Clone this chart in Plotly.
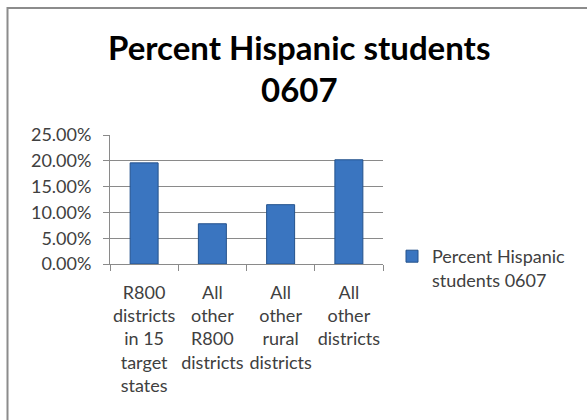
import plotly.graph_objects as go

categories = [
    "R800<br>districts<br>in 15<br>target<br>states",
    "All<br>other<br>R800<br>districts",
    "All<br>other<br>rural<br>districts",
    "All<br>other<br>districts",
]
series_name = "Percent Hispanic<br>students 0607"
pct_hispanic = [0.196, 0.078, 0.115, 0.202]
y_ticks = [0, 0.05, 0.10, 0.15, 0.20, 0.25]
y_tick_labels = ["0.00%", "5.00%", "10.00%", "15.00%", "20.00%", "25.00%"]
title_lines = ["Percent Hispanic students", "0607"]

FONT = "Lato, Open Sans, sans-serif"
TEXT = "#404040"
GRID = "#8a8a8a"

fig = go.Figure()
fig.add_trace(go.Bar(
    x=categories,
    y=pct_hispanic,
    name=series_name,
    width=0.41,
    marker=dict(color="#3a75c0", line=dict(color="#24528c", width=1)),
    showlegend=True,
))

W, H = 587, 420
ml, mr, mt, mb = 110, 204, 135, 156
pw = W - ml - mr
ph = H - mt - mb

fig.update_layout(
    width=W, height=H,
    margin=dict(l=ml, r=mr, t=mt, b=mb, autoexpand=False),
    paper_bgcolor="white",
    plot_bgcolor="white",
    font=dict(family=FONT, size=18, color=TEXT),
    showlegend=True,
    legend=dict(
        x=(392 - ml) / pw, y=(H - mb - 268) / ph,
        xanchor="left", yanchor="middle",
        valign="top",
        font=dict(family=FONT, size=18, color=TEXT),
        itemwidth=30,
        bgcolor="rgba(0,0,0,0)",
    ),
)

fig.update_xaxes(
    showline=True, linecolor=GRID, linewidth=1,
    ticks="outside", ticklen=6, tickcolor=GRID,
    tickson="boundaries",
    tickangle=0,
    tickfont=dict(family=FONT, size=18, color=TEXT),
    showgrid=False,
    ticklabelstandoff=12,
)
fig.update_yaxes(
    range=[0, 0.25],
    tickvals=y_ticks, ticktext=y_tick_labels,
    showline=True, linecolor=GRID, linewidth=1,
    ticks="outside", ticklen=6, tickcolor=GRID,
    showgrid=True, gridcolor=GRID, gridwidth=1,
    tickfont=dict(family=FONT, size=18, color=TEXT),
    zeroline=False,
    ticklabelstandoff=8,
)

# two-line chart title, centred over the chart area
for line, ypx in zip(title_lines, [47, 89]):
    fig.add_annotation(
        text=f"<b>{line}</b>",
        xref="paper", yref="paper",
        x=(299 - ml) / pw, y=(H - mb - ypx) / ph,
        xanchor="center", yanchor="middle",
        showarrow=False,
        font=dict(family=FONT, size=33, color="black"),
    )

# chart area frame
fig.add_shape(
    type="rect", xref="paper", yref="paper",
    x0=(7.5 - ml) / pw, x1=(W + 20 - ml) / pw,
    y0=(H - mb - (H + 20)) / ph, y1=(H - mb - 8) / ph,
    line=dict(color="#8c8c8c", width=2),
    fillcolor="rgba(0,0,0,0)",
    layer="below",
)

fig.write_html("out.html")
